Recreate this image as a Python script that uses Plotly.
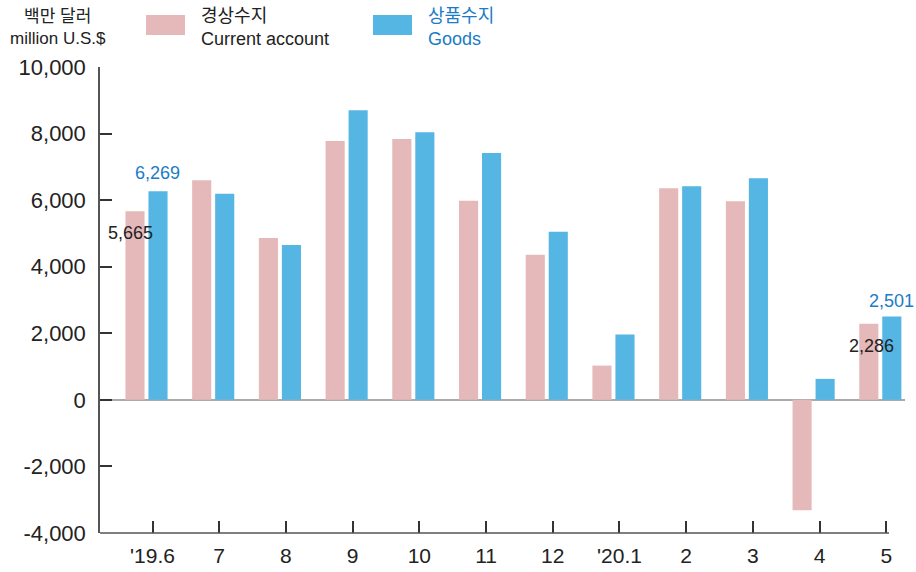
import plotly.graph_objects as go

months = ["'19.6", '7', '8', '9', '10', '11', '12', "'20.1", '2', '3', '4', '5']
current_account = [5665, 6600, 4860, 7780, 7840, 5980, 4360, 1030, 6360, 5970, -3320, 2286]
goods = [6269, 6190, 4650, 8700, 8040, 7420, 5050, 1960, 6420, 6660, 630, 2501]

y_ticks = [-4000, -2000, 0, 2000, 4000, 6000, 8000, 10000]
y_tick_text = ['-4,000', '-2,000', '0', '2,000', '4,000', '6,000', '8,000', '10,000']

PINK = '#e5b8b9'
BLUE = '#55b6e3'
FONT = 'Liberation Sans, Arial, Noto Sans CJK KR'
idx = list(range(len(months)))

fig = go.Figure()

fig.add_trace(
    go.Bar(
        x=idx, y=current_account,
        name='경상수지 Current account',
        marker_color=PINK,
        marker_line_width=0,
    )
)
fig.add_trace(
    go.Bar(
        x=idx, y=goods,
        name='상품수지 Goods',
        marker_color=BLUE,
        marker_line_width=0,
    )
)

# value labels on first and last month
off = 0.172
first, last = 0, len(months) - 1
annots = [
    dict(x=first + off, y=goods[first], text=f'{goods[first]:,}', color='#1a7cc6',
         yanchor='bottom', yshift=6, xshift=0),
    dict(x=first - off, y=current_account[first], text=f'{current_account[first]:,}', color='#222222',
         yanchor='top', yshift=-10, xshift=-5),
    dict(x=last + off, y=goods[last], text=f'{goods[last]:,}', color='#1a7cc6',
         yanchor='bottom', yshift=4, xshift=0),
    dict(x=last - off, y=current_account[last], text=f'{current_account[last]:,}', color='#222222',
         yanchor='top', yshift=-10, xshift=3),
]
for a in annots:
    fig.add_annotation(
        x=a['x'], y=a['y'], text=a['text'],
        showarrow=False, xanchor='center', yanchor=a['yanchor'],
        yshift=a['yshift'], xshift=a['xshift'],
        font=dict(family=FONT, size=18, color=a['color']),
    )

# unit label and hand-made legend
fig.add_annotation(
    xref='paper', yref='paper', x=-0.052, y=(533 - 28) / 466,
    text='백만 달러<br>million U.S.$', showarrow=False, align='center',
    xanchor='center', yanchor='middle',
    font=dict(family=FONT, size=17, color='#222222'),
)
legend_items = [
    (146, '경상수지<br>Current account', PINK, '#222222'),
    (373, '상품수지<br>Goods', BLUE, '#1a7cc6'),
]
for px, label, col, tcol in legend_items:
    fig.add_shape(
        type='rect', xref='paper', yref='paper',
        x0=(px - 100) / 805, x1=(px + 39 - 100) / 805,
        y0=(533 - 35) / 466, y1=(533 - 15) / 466,
        fillcolor=col, line_width=0,
    )
    fig.add_annotation(
        xref='paper', yref='paper', x=(px + 53 - 100) / 805, y=(533 - 27) / 466,
        text=label, showarrow=False, align='left',
        xanchor='left', yanchor='middle',
        font=dict(family=FONT, size=18, color=tcol),
    )

# bottom axis line (stops short of the last bar)
fig.add_shape(
    type='line', xref='paper', yref='paper',
    x0=0, x1=(889 - 100) / 805, y0=0, y1=0,
    line=dict(color='#555555', width=1.5),
)

fig.update_layout(
    width=916, height=572,
    barmode='group',
    bargap=0.31,
    bargroupgap=0.17,
    showlegend=False,
    plot_bgcolor='white',
    paper_bgcolor='white',
    margin=dict(l=100, r=11, t=67, b=39),
    font=dict(family=FONT, color='#222222'),
)
fig.update_xaxes(
    range=[-0.697, 11.37],
    tickvals=[i + 0.09 for i in idx],
    ticktext=months,
    ticks='inside', ticklen=12, tickwidth=1.5, tickcolor='#333333',
    showline=False, showgrid=False, zeroline=False,
    tickfont=dict(family=FONT, size=21, color='#222222'),
    ticklabelstandoff=8,
    automargin=False,
)
fig.update_yaxes(
    range=[-4000, 10000],
    tickvals=y_ticks, ticktext=y_tick_text,
    ticks='inside', ticklen=12, tickwidth=1.5, tickcolor='#333333',
    showline=True, linecolor='#555555', linewidth=1.5,
    showgrid=False,
    zeroline=True, zerolinecolor='#aaaaaa', zerolinewidth=2,
    tickfont=dict(family=FONT, size=22, color='#222222'),
    ticklabelstandoff=8,
    automargin=False,
)

# page body has a default 8px margin; drop it so the figure sits at the corner
fig.write_html(
    'out.html',
    config={'displayModeBar': False},
    post_script="document.body.style.margin='0px';",
)
